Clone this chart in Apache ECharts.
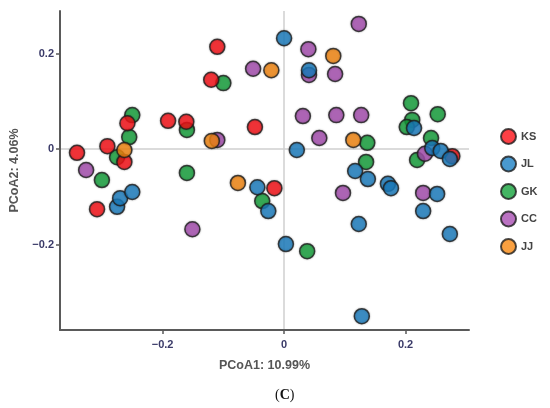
<!DOCTYPE html>
<html>
<head>
<meta charset="utf-8">
<script src="https://cdn.jsdelivr.net/npm/echarts@6/dist/echarts.min.js"></script>
<style>
  html, body { margin: 0; padding: 0; background: #fff; }
  #chart { width: 550px; height: 408px; }
</style>
</head>
<body>
<div id="chart"></div>
<script>
// group names, legend order
const groups = ['KS', 'JL', 'GK', 'CC', 'JJ']
const colors = ['#fb1016', '#1b80c3', '#15a23c', '#a94fb3', '#f78810']

// PCoA1 / PCoA2 coordinates per group
const ksPoints = [
  [-0.341, -0.008], [-0.291, 0.006], [-0.258, 0.054], [-0.263, -0.027], [-0.308, -0.126],
  [-0.191, 0.059], [-0.161, 0.057], [-0.110, 0.214], [-0.120, 0.145], [-0.048, 0.046],
  [-0.016, -0.082], [0.277, -0.015]
]
const jlPoints = [
  [0.000, 0.232], [0.041, 0.165], [0.021, -0.002], [-0.275, -0.121], [-0.270, -0.103],
  [-0.250, -0.090], [-0.044, -0.080], [-0.026, -0.130], [0.003, -0.199], [0.117, -0.046],
  [0.138, -0.063], [0.171, -0.073], [0.176, -0.082], [0.252, -0.094], [0.229, -0.130],
  [0.123, -0.157], [0.273, -0.178], [0.128, -0.350], [0.214, 0.044], [0.244, 0.002],
  [0.258, -0.004], [0.273, -0.021]
]
const gkPoints = [
  [-0.250, 0.071], [-0.255, 0.025], [-0.275, -0.017], [-0.300, -0.065], [-0.160, -0.050],
  [-0.160, 0.040], [-0.100, 0.138], [-0.036, -0.109], [0.038, -0.214], [0.209, 0.096],
  [0.211, 0.061], [0.202, 0.046], [0.253, 0.073], [0.137, 0.013], [0.135, -0.027],
  [0.242, 0.023], [0.219, -0.023]
]
const ccPoints = [
  [-0.326, -0.044], [-0.051, 0.168], [-0.110, 0.019], [-0.151, -0.168], [0.123, 0.262],
  [0.040, 0.209], [0.084, 0.157], [0.031, 0.069], [0.086, 0.071], [0.127, 0.071],
  [0.058, 0.023], [0.097, -0.092], [0.229, -0.092], [0.232, -0.010], [0.041, 0.155]
]
const jjPoints = [
  [-0.263, -0.002], [-0.119, 0.017], [-0.076, -0.071], [-0.021, 0.165], [0.081, 0.195],
  [0.114, 0.019]
]

const tickValues = [-0.2, 0, 0.2]
const xTitle = 'PCoA1: 10.99%'
const yTitle = 'PCoA2: 4.06%'

const pointsByGroup = { KS: ksPoints, JL: jlPoints, GK: gkPoints, CC: ccPoints, JJ: jjPoints }
// drawing order (bottom -> top)
const drawOrder = ['GK', 'KS', 'CC', 'JL', 'JJ']

function fmt(v) {
  return String(v).replace('-', '\u2212')
}

const tickLabel = {
  color: '#3a3a68',
  fontWeight: 'bold',
  fontSize: 11,
  fontFamily: 'Liberation Sans, Arial, sans-serif',
  customValues: tickValues,
  formatter: fmt
}

const series = drawOrder.map((g, i) => {
  const s = {
    name: g,
    type: 'scatter',
    data: pointsByGroup[g],
    symbolSize: 15,
    itemStyle: {
      color: colors[groups.indexOf(g)],
      borderColor: '#1e1e1e',
      borderWidth: 1.5,
      shadowBlur: 2,
      shadowColor: 'rgba(0,0,0,0.35)'
    },
    emphasis: { disabled: true }
  }
  if (i === 0) {
    // the two zero reference lines
    s.markLine = {
      silent: true,
      symbol: 'none',
      label: { show: false },
      lineStyle: { color: '#cfcfcf', width: 1.5, type: 'solid' },
      z: 0,
      data: [{ xAxis: 0 }, { yAxis: 0 }]
    }
  }
  return s
})

const axisLine = { onZero: false, lineStyle: { color: '#5a5a5a', width: 2 } }
const axisTick = { length: 4, lineStyle: { color: '#5a5a5a', width: 1.5 }, customValues: tickValues }
const nameStyle = { color: '#555', fontSize: 12.5, fontWeight: 'bold', fontFamily: 'Liberation Sans, Arial, sans-serif' }

const chart = echarts.init(document.getElementById('chart'))
chart.setOption({
  animation: false,
  backgroundColor: '#fff',
  grid: { left: 60, top: 11, right: 81, bottom: 78 },
  legend: {
    data: groups,
    orient: 'vertical',
    left: 495,
    top: 123,
    itemWidth: 15,
    itemHeight: 15,
    itemGap: 10.5,
    icon: 'circle',
    textStyle: { color: '#444', fontWeight: 'bold', fontSize: 11, fontFamily: 'Liberation Sans, Arial, sans-serif' }
  },
  xAxis: {
    type: 'value',
    min: -0.369,
    max: 0.3045,
    name: xTitle,
    nameLocation: 'middle',
    nameGap: 29,
    nameTextStyle: nameStyle,
    axisLine: axisLine,
    axisTick: axisTick,
    axisLabel: Object.assign({ margin: 9 }, tickLabel),
    splitLine: { show: false }
  },
  yAxis: {
    type: 'value',
    min: -0.379,
    max: 0.289,
    name: yTitle,
    nameLocation: 'middle',
    nameGap: 37,
    nameTextStyle: nameStyle,
    axisLine: axisLine,
    axisTick: axisTick,
    axisLabel: Object.assign({ margin: 6 }, tickLabel),
    splitLine: { show: false }
  },
  graphic: [
    {
      type: 'text',
      left: 275,
      top: 388,
      style: {
        text: '{n|(}{b|C}{n|)}',
        rich: {
          n: { fontFamily: 'Liberation Serif, serif', fontSize: 14, fill: '#111' },
          b: { fontFamily: 'Liberation Serif, serif', fontSize: 14, fontWeight: 'bold', fill: '#111' }
        }
      }
    }
  ],
  series: series
})
</script>
</body>
</html>
